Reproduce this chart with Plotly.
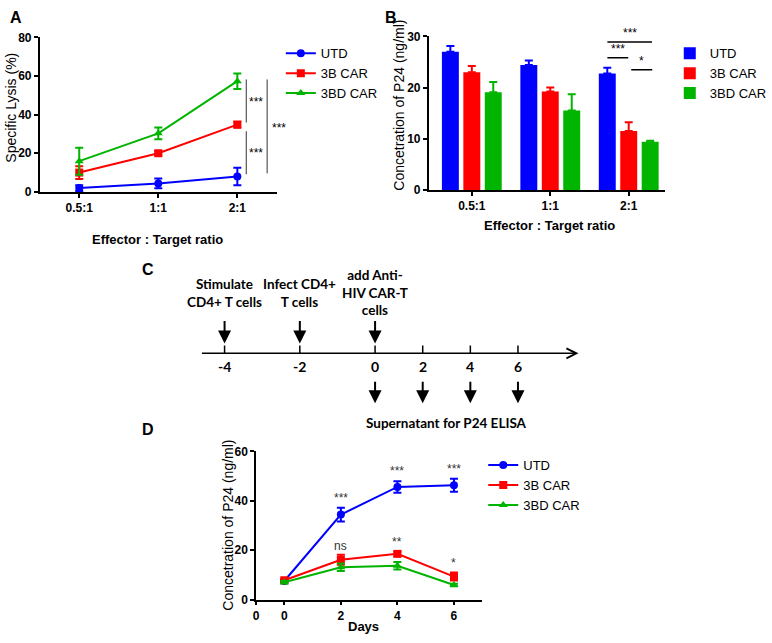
import plotly.graph_objects as go

W, H = 772, 643
def px(x): return x / W
def py(y): return 1 - y / H

FONT = "Liberation Sans, Arial, sans-serif"
CFONT = "Lato, Open Sans, sans-serif"
BLUE, RED, GREEN = "#0000FF", "#FF0000", "#00B400"

# ---------------- Panel A data ----------------
ratios = ["0.5:1", "1:1", "2:1"]
a_utd = [2.0, 4.4, 8.0]
a_utd_err = [1.5, 2.5, 4.5]
a_3b = [10.0, 20.0, 34.8]
a_3b_err = [3.3, 1.0, 1.5]
a_3bd = [15.9, 30.3, 57.3]
a_3bd_err = [7.0, 3.0, 4.0]

# ---------------- Panel B data ----------------
b_utd = [27.0, 24.4, 22.75]
b_utd_err = [1.1, 0.9, 1.1]
b_3b = [23.0, 19.25, 11.5]
b_3b_err = [1.2, 0.75, 1.7]
b_3bd = [19.1, 15.5, 9.4]
b_3bd_err = [2.0, 3.2, 0.2]

# ---------------- Panel C data ----------------
timeline_days = [-4, -2, 0, 2, 4, 6]
event_days = [-4, -2, 0]
event_labels = ["Stimulate<br>CD4+ T cells", "Infect CD4+<br>T cells", "add Anti-<br>HIV CAR-T<br>cells"]
sample_days = [0, 2, 4, 6]
sample_label = "Supernatant for P24 ELISA"

# ---------------- Panel D data ----------------
days = [0, 2, 4, 6]
d_utd = [7.5, 34.4, 45.6, 46.3]
d_utd_err = [0.5, 2.8, 2.3, 2.6]
d_3b = [7.8, 16.1, 18.5, 9.3]
d_3b_err = [0.5, 2.0, 1.0, 1.6]
d_3bd = [7.0, 13.1, 13.7, 5.9]
d_3bd_err = [0.5, 1.5, 1.5, 0.5]
d_sig_utd = ["***", "***", "***"]
d_sig_utd_y = [41.2, 52.2, 52.9]
d_sig_car = ["ns", "**", "*"]
d_sig_car_y = [21.7, 23.4, 14.8]
d_x_ticks = [-1, 0, 2, 4, 6]
d_x_ticktext = ["0", "0", "2", "4", "6"]

names = ["UTD", "3B CAR", "3BD CAR"]
colors = [BLUE, RED, GREEN]
symbols = ["circle", "square", "triangle-up"]

fig = go.Figure()

# Panel A traces
for name, vals, errs, c, s in zip(names, [a_utd, a_3b, a_3bd], [a_utd_err, a_3b_err, a_3bd_err], colors, symbols):
    fig.add_trace(go.Scatter(
        x=ratios, y=vals, name=name, mode="lines+markers",
        line=dict(color=c, width=2), marker=dict(color=c, size=8, symbol=s),
        error_y=dict(type="data", array=errs, color=c, thickness=2, width=4),
        xaxis="x", yaxis="y", legend="legend", cliponaxis=False))

# Panel B traces
for name, vals, errs, c in zip(names, [b_utd, b_3b, b_3bd], [b_utd_err, b_3b_err, b_3bd_err], colors):
    fig.add_trace(go.Bar(
        x=ratios, y=vals, name=name, marker=dict(color=c, line=dict(width=0)),
        error_y=dict(type="data", array=errs, arrayminus=[0] * len(errs), symmetric=False,
                     color=c, thickness=2, width=4),
        xaxis="x2", yaxis="y2", legend="legend2"))

# Panel D traces
for name, vals, errs, c, s in zip(names, [d_utd, d_3b, d_3bd], [d_utd_err, d_3b_err, d_3bd_err], colors, symbols):
    fig.add_trace(go.Scatter(
        x=days, y=vals, name=name, mode="lines+markers",
        line=dict(color=c, width=2), marker=dict(color=c, size=8, symbol=s),
        error_y=dict(type="data", array=errs, color=c, thickness=2, width=4),
        xaxis="x3", yaxis="y3", legend="legend3", cliponaxis=False))

# Panel C timeline: display position of a day on the schematic
def slot(d):
    return d * 0.79 if d < 0 else d * 0.5

tick_x, tick_y = [], []
for d in timeline_days:
    tick_x += [slot(d), slot(d), None]
    tick_y += [0, 8, None]
fig.add_trace(go.Scatter(x=tick_x, y=tick_y, mode="lines", line=dict(color="black", width=1.5),
                         xaxis="x4", yaxis="y4", showlegend=False, hoverinfo="skip"))

tickfont = dict(family=FONT, size=12, color="black", weight="bold")
ax_common = dict(showline=True, linecolor="black", linewidth=1.5, ticks="outside", ticklen=4,
                 tickwidth=1.5, tickcolor="black", showgrid=False, zeroline=False, tickfont=tickfont)

layout = dict(
    width=W, height=H, autosize=False, margin=dict(l=0, r=0, t=0, b=0),
    paper_bgcolor="white", plot_bgcolor="white", showlegend=True,
    barmode="group", bargap=0.18, bargroupgap=0.21,
    xaxis=dict(domain=[px(37), px(276)], anchor="y", type="category", range=[-0.5, 2.5], **ax_common),
    yaxis=dict(domain=[py(189), py(31)], anchor="x", range=[0, 80], dtick=20, **ax_common),
    xaxis2=dict(domain=[px(429), px(667)], anchor="y2", type="category", range=[-0.55, 2.46], **ax_common),
    yaxis2=dict(domain=[py(187), py(30)], anchor="x2", range=[0, 30], dtick=10, **ax_common),
    xaxis3=dict(domain=[px(255), px(483)], anchor="y3", range=[-1, 7], tickvals=d_x_ticks,
                ticktext=d_x_ticktext, **ax_common),
    yaxis3=dict(domain=[py(605.7), py(454.3)], anchor="x3", range=[0, 60], dtick=20, **ax_common),
    xaxis4=dict(domain=[px(180), px(600)], anchor="y4", range=[(180 - 375) / 48, (600 - 375) / 48],
                visible=False),
    yaxis4=dict(domain=[py(440), py(260)], anchor="x4", range=[-86, 94], visible=False),
)
legfont = dict(family=FONT, size=13, color="black")
layout["legend"] = dict(x=px(280), y=py(32), xanchor="left", yanchor="top", font=legfont,
                        bgcolor="rgba(0,0,0,0)", tracegroupgap=0, itemwidth=30)
layout["legend2"] = dict(x=px(672), y=py(32), xanchor="left", yanchor="top", font=legfont,
                         bgcolor="rgba(0,0,0,0)", tracegroupgap=0, itemwidth=30)
layout["legend3"] = dict(x=px(484), y=py(453), xanchor="left", yanchor="top", font=legfont,
                         bgcolor="rgba(0,0,0,0)", tracegroupgap=0, itemwidth=30)
fig.update_layout(**layout)

ann = []
shapes = []

def text(x, y, t, size=12, bold=False, xref="paper", yref="paper", angle=0, xanchor="center",
         yanchor="middle", family=FONT, color="black"):
    ann.append(dict(x=x, y=y, xref=xref, yref=yref, text=t, showarrow=False, textangle=angle,
                    xanchor=xanchor, yanchor=yanchor,
                    font=dict(family=family, size=size, color=color, weight="bold" if bold else "normal")))

# Panel letters
text(px(13), py(11), "A", size=16, bold=True)
text(px(391), py(11), "B", size=16, bold=True)
text(px(146), py(268), "C", size=16, bold=True)
text(px(146), py(432), "D", size=16, bold=True)

# Axis titles
text(px(8), py(103), "Specific Lysis (%)", size=14, angle=-90)
text(px(156), py(238), "Effector : Target ratio", size=13, bold=True)
text(px(399), py(100), "Concetration of P24 (ng/ml)", size=14, angle=-90)
text(px(551), py(223), "Effector : Target ratio", size=13, bold=True)
text(px(227), py(530), "Concetration of P24 (ng/ml)", size=14, angle=-90)
text(px(363), py(633), "Days", size=13, bold=True)

# Panel A significance brackets
for (x0, y0, y1) in [(2.113, 58.2, 35.9), (2.113, 31.4, 9.1), (2.377, 58.2, 9.6)]:
    shapes.append(dict(type="line", xref="x", yref="y", x0=x0, x1=x0, y0=y0, y1=y1,
                       line=dict(color="#333333", width=1)))
for (x, y) in [(2.24, 46.5), (2.24, 20.3)]:
    text(x, y, "***", size=12, xref="x", yref="y")
text(px(278), py(124), "***", size=12)

# Panel B significance brackets
for (x0, x1, y) in [(1.728, 2.297, 28.9), (1.728, 1.994, 25.8), (2.032, 2.30, 23.5)]:
    shapes.append(dict(type="line", xref="x2", yref="y2", x0=x0, x1=x1, y0=y, y1=y,
                       line=dict(color="black", width=1.5)))
for (x, y, t) in [(2.01, 28.9, "***"), (1.86, 25.8, "***"), (2.16, 23.5, "*")]:
    text(x, y, t, size=12, xref="x2", yref="y2", yanchor="bottom")

# Panel D significance labels
for d, y, t in zip(days[1:], d_sig_utd_y, d_sig_utd):
    text(d, y, t, size=12, xref="x3", yref="y3", color="#333333")
for d, y, t in zip(days[1:], d_sig_car_y, d_sig_car):
    text(d, y, t, size=12, xref="x3", yref="y3", color="#333333")

# Panel C timeline
ann.append(dict(x=(580 - 375) / 48, y=0, ax=(199 - 375) / 48, ay=0, xref="x4", yref="y4",
                axref="x4", ayref="y4", text="", showarrow=True, arrowhead=5, arrowsize=1.3,
                arrowwidth=1.5, arrowcolor="black", standoff=0))
for d in timeline_days:
    text(slot(d), -13, str(d), size=14, bold=True, xref="x4", yref="y4", family=CFONT)
for d in event_days:
    ann.append(dict(x=slot(d), y=10, xref="x4", yref="y4", ax=0, ay=-24, text="", showarrow=True,
                    arrowhead=2, arrowsize=1.3, arrowwidth=2, arrowcolor="black", standoff=0))
for d, lab in zip(event_days, event_labels):
    text(slot(d), 62, lab, size=13.5, bold=True, xref="x4", yref="y4", family=CFONT)
for d in sample_days:
    ann.append(dict(x=slot(d), y=-51, xref="x4", yref="y4", ax=0, ay=-23, text="", showarrow=True,
                    arrowhead=2, arrowsize=1.3, arrowwidth=2, arrowcolor="black", standoff=0))
text(1.5, -71, sample_label, size=13.5, bold=True, xref="x4", yref="y4", family=CFONT)

fig.update_layout(annotations=ann, shapes=shapes)
fig.write_html("out.html", config={"displayModeBar": False},
               post_script="document.body.style.margin='0';")
